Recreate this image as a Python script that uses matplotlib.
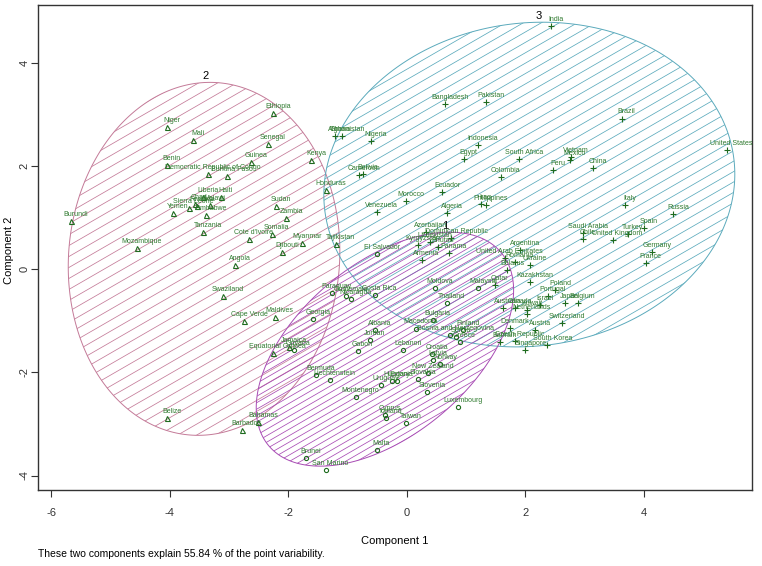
import numpy as np
import matplotlib
matplotlib.use('Agg')
import matplotlib.pyplot as plt
from matplotlib.patches import Polygon
from matplotlib.collections import LineCollection

plt.rcParams['font.family'] = ['Liberation Sans Narrow', 'Liberation Sans', 'DejaVu Sans']

# ---------------- data ----------------
c2_names = ["Niger", "Mali", "Benin", "Democratic Republic of Congo", "Burkina Faso", "Guinea",
            "Ethiopia", "Senegal", "Kenya", "Honduras", "Liberia", "Haiti", "Malawi", "Chad",
            "Sierra Leone", "Rwanda", "Yemen", "Zimbabwe", "Tanzania", "Burundi", "Mozambique",
            "Sudan", "Zambia", "Somalia", "Cote d'Ivoire", "Myanmar", "Djibouti", "Tajikistan",
            "Angola", "Swaziland", "Cape Verde", "Maldives", "Equatorial Guinea", "Jamaica",
            "Belize", "Barbados", "Bahamas"]
c2_x = [-4.05, -3.60, -4.05, -3.36, -3.04, -2.63, -2.26, -2.35, -1.61, -1.37, -3.44, -3.14, -3.32,
        -3.58, -3.68, -3.54, -3.95, -3.39, -3.44, -5.67, -4.55, -2.20, -2.03, -2.28, -2.66, -1.77,
        -2.10, -1.20, -2.90, -3.10, -2.74, -2.23, -2.26, -1.99, -4.05, -2.78, -2.51]
c2_y = [2.75, 2.51, 2.02, 1.85, 1.80, 2.07, 3.02, 2.42, 2.11, 1.53, 1.40, 1.40, 1.24, 1.26, 1.18,
        1.22, 1.09, 1.05, 0.72, 0.94, 0.41, 1.22, 1.00, 0.69, 0.59, 0.50, 0.34, 0.48, 0.08, -0.52,
        -1.00, -0.92, -1.63, -1.51, -2.89, -3.12, -2.97]

c3_names = ["Ghana", "Afghanistan", "Nigeria", "Cameroon", "Bolivia", "Bangladesh", "Pakistan",
            "Indonesia", "Egypt", "India", "Brazil", "United States", "South Africa", "Mexico",
            "Vietnam", "Peru", "China", "Colombia", "Ecuador", "Morocco", "Venezuela", "Algeria",
            "Iraq", "Philippines", "Azerbaijan", "Kyrgyzstan", "Dominican Republic", "Uzbekistan",
            "Bhutan", "Panama", "Armenia", "Argentina", "United Arab Emirates", "Romania", "Ukraine",
            "Belarus", "Kazakhstan", "Qatar", "Poland", "Portugal", "Israel", "Japan", "Belgium",
            "Saudi Arabia", "Chile", "United Kingdom", "Italy", "Russia", "Spain", "Turkey",
            "Germany", "France", "Switzerland", "South Korea", "Singapore", "Czech Republic",
            "Denmark", "Austria", "Kuwait", "Netherlands", "Canada", "Australia", "Bahrain"]
c3_x = [-1.21, -1.09, -0.61, -0.80, -0.74, 0.64, 1.33, 1.20, 0.96, 2.43, 3.62, 5.39, 1.89, 2.75,
        2.77, 2.46, 3.14, 1.58, 0.60, -0.02, -0.51, 0.67, 1.25, 1.33, 0.32, 0.19, 0.75, 0.39,
        0.52, 0.71, 0.25, 1.91, 1.65, 1.82, 2.07, 1.69, 2.07, 1.48, 2.50, 2.38, 2.24, 2.66, 2.88,
        2.97, 2.97, 3.47, 3.68, 4.49, 4.00, 3.73, 4.13, 4.03, 2.61, 2.37, 2.00, 1.82, 1.74, 2.16,
        2.02, 2.02, 1.82, 1.62, 1.57]
c3_y = [2.58, 2.58, 2.48, 1.82, 1.85, 3.20, 3.24, 2.40, 2.13, 4.72, 2.92, 2.31, 2.13, 2.11, 2.17,
        1.92, 1.96, 1.79, 1.50, 1.32, 1.10, 1.08, 1.27, 1.24, 0.72, 0.47, 0.60, 0.52, 0.43, 0.31,
        0.18, 0.37, 0.21, 0.14, 0.08, -0.02, -0.25, -0.31, -0.41, -0.52, -0.70, -0.66, -0.66,
        0.70, 0.58, 0.56, 1.24, 1.06, 0.79, 0.68, 0.33, 0.12, -1.05, -1.47, -1.56, -1.39, -1.14,
        -1.18, -0.79, -0.87, -0.76, -0.76, -1.41]

c1_names = ["El Salvador", "Paraguay", "Guatemala", "Nicaragua", "Costa Rica", "Georgia", "Moldova",
            "Thailand", "Malaysia", "Finland", "Bulgaria", "Macedonia", "Bosnia and Herzegovina",
            "Serbia", "Greece", "Lebanon", "Croatia", "Latvia", "Norway", "Uruguay", "Hungary",
            "Estonia", "Slovakia", "New Zealand", "Slovenia", "Luxembourg", "Montenegro", "Cyprus",
            "Iceland", "Taiwan", "Malta", "Brunei", "San Marino", "Bermuda", "Liechtenstein",
            "Gabon", "Jordan", "Albania", "Guyana"]
c1_x = [-0.50, -1.27, -1.03, -0.95, -0.54, -1.58, 0.47, 0.67, 1.20, 0.95, 0.44, 0.15, 0.73, 0.83,
        0.89, -0.06, 0.42, 0.44, 0.56, -0.44, -0.25, -0.17, 0.19, 0.35, 0.34, 0.87, -0.86, -0.37,
        -0.36, -0.01, -0.51, -1.70, -1.37, -1.53, -1.30, -0.83, -0.62, -0.54, -1.91]
c1_y = [0.30, -0.46, -0.52, -0.57, -0.50, -0.97, -0.37, -0.66, -0.37, -1.18, -0.99, -1.15, -1.28,
        -1.32, -1.41, -1.57, -1.65, -1.76, -1.83, -2.25, -2.17, -2.16, -2.13, -2.02, -2.38, -2.67,
        -2.47, -2.83, -2.89, -2.99, -3.51, -3.66, -3.90, -2.05, -2.15, -1.58, -1.38, -1.18, -1.57]

# cluster ellipses: x = cx + a*cos(t), y = cy + c*cos(t) + d*sin(t)
ell_labels = ["2", "3", "1"]
ell_cx = [-3.42, 2.065, -0.37]
ell_cy = [0.20, 1.64, -1.55]
ell_a = [2.29, 3.465, 2.17]
ell_c = [0.15, 0.20, 1.14]
ell_d = [3.417, 3.14, 1.96]
ell_colors = ["#C47A98", "#5BAABC", "#A84BB4"]
ell_spacing = [9.5, 9.0, 5.6]

caption = "These two components explain 55.84 % of the point variability."
xticks = [-6, -4, -2, 0, 2, 4]
yticks = [-4, -2, 0, 2, 4]

# ---------------- figure ----------------
fig = plt.figure(figsize=(7.62, 5.66), dpi=100)
ax = fig.add_axes([38 / 762, 76 / 566, 714 / 762, 485 / 566])
ax.set_xlim(-6.22, 5.82)
ax.set_ylim(-4.28, 5.12)

def hatch_ellipse(cx, cy, a, c, d, color, spacing, angle=30.0, lw=0.55):
    t = np.linspace(0, 2 * np.pi, 400)
    xs = cx + a * np.cos(t)
    ys = cy + c * np.cos(t) + d * np.sin(t)
    poly = Polygon(np.column_stack([xs, ys]), closed=True, fill=False,
                   edgecolor=color, lw=0.7, zorder=2)
    ax.add_patch(poly)
    pts = ax.transData.transform(np.column_stack([xs, ys]))
    th = np.deg2rad(angle)
    u = np.array([np.cos(th), np.sin(th)])
    n = np.array([-np.sin(th), np.cos(th)])
    ctr = pts.mean(axis=0)
    R = np.max(np.linalg.norm(pts - ctr, axis=1)) + 10
    inv = ax.transData.inverted()
    segs = []
    for k in np.arange(-R, R, spacing):
        p0 = ctr + n * k - u * R
        p1 = ctr + n * k + u * R
        segs.append(inv.transform(np.array([p0, p1])))
    lc = LineCollection(segs, colors=color, linewidths=lw, zorder=2)
    lc.set_clip_path(poly)
    ax.add_collection(lc)
    ts = np.arctan2(d, c)
    return cx + a * np.cos(ts), cy + c * np.cos(ts) + d * np.sin(ts)

for lab, cx, cy, a, c, d, col, sp in zip(ell_labels, ell_cx, ell_cy, ell_a, ell_c, ell_d,
                                          ell_colors, ell_spacing):
    tx, ty = hatch_ellipse(cx, cy, a, c, d, col, sp)
    ax.annotate(lab, (tx, ty), xytext=(-3, 1), textcoords='offset points',
                ha='center', va='bottom', fontsize=8, color='black', zorder=5)

pt_col = '#1E6B1E'
txt_col = '#2F7A2F'
for names, xs, ys, mk, ms in [(c2_names, c2_x, c2_y, '^', 3.6),
                              (c3_names, c3_x, c3_y, '+', 5.0),
                              (c1_names, c1_x, c1_y, 'o', 3.0)]:
    ax.plot(xs, ys, linestyle='none', marker=mk, markersize=ms, markerfacecolor='none',
            markeredgecolor=pt_col, markeredgewidth=0.8, zorder=4)
    for nm, x, y in zip(names, xs, ys):
        ax.annotate(nm, (x, y), xytext=(3.5, 2.2), textcoords='offset points',
                    ha='center', va='bottom', fontsize=5.0, color=txt_col, zorder=5)

ax.set_xticks(xticks)
ax.set_yticks(yticks)
ax.set_xticklabels([str(v) for v in xticks], fontsize=8)
ax.set_yticklabels([str(v) for v in yticks], fontsize=8, rotation=90, va='center')
ax.tick_params(length=5, width=0.8, colors='#333333')
ax.tick_params(axis='x', pad=8)
ax.tick_params(axis='y', pad=1)
for s in ax.spines.values():
    s.set_color('#333333')
    s.set_linewidth(1.0)

fig.text(395 / 762, 1 - 541 / 566, "Component 1", ha='center', va='center', fontsize=8)
fig.text(9 / 762, 1 - 250 / 566, "Component 2", ha='center', va='center', fontsize=8,
         rotation=90)
fig.text(38 / 762, 1 - 554 / 566, caption, ha='left', va='center', fontsize=7.5)

fig.savefig('out.png', dpi=100)
